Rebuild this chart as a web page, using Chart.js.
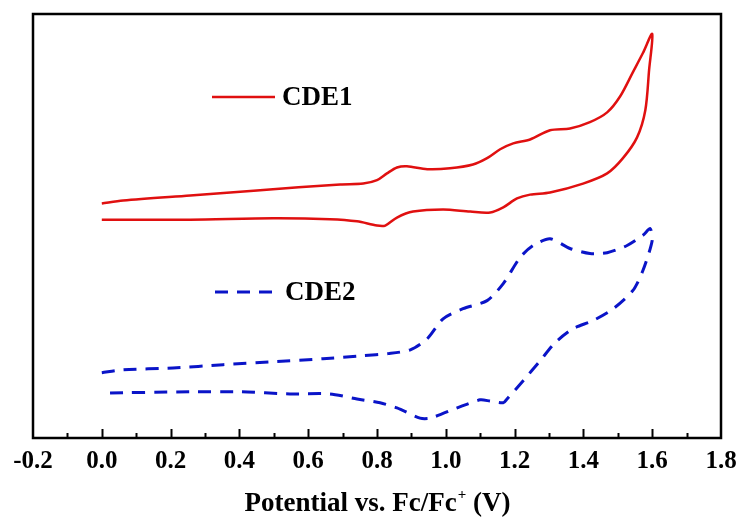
<!DOCTYPE html>
<html>
<head>
<meta charset="utf-8">
<script src="https://cdn.jsdelivr.net/npm/chart.js@4/dist/chart.umd.min.js"></script>
<style>
  html, body { margin: 0; padding: 0; background: #ffffff; }
  #wrap { width: 742px; height: 520px; }
</style>
</head>
<body>
<div id="wrap"><canvas id="cv" width="742" height="520"></canvas></div>
<script>
// Cyclic voltammograms: potential (V vs. Fc/Fc+) and current (arbitrary units)
const cde1Potential = [0.000, 0.062, 0.257, 0.451, 0.693, 0.760, 0.800, 0.829, 0.858, 0.887, 0.946, 1.012, 1.079, 1.120, 1.158, 1.196, 1.245, 1.303, 1.361, 1.419, 1.469, 1.507, 1.544, 1.573, 1.600,
                       1.591, 1.580, 1.556, 1.515, 1.469, 1.399, 1.303, 1.245, 1.207, 1.167, 1.129, 1.071, 0.992, 0.905, 0.858, 0.824, 0.800, 0.742, 0.663, 0.498, 0.257, 0.000];
const cde1Current   = [55.3, 56.0, 57.2, 58.4, 59.8, 60.0, 60.8, 62.4, 63.8, 64.1, 63.4, 63.6, 64.5, 66.0, 68.1, 69.5, 70.4, 72.6, 73.0, 74.5, 76.8, 80.6, 86.3, 90.8, 95.3,
                       86.8, 77.3, 70.9, 66.0, 62.4, 60.0, 57.9, 57.4, 56.5, 54.4, 53.2, 53.4, 53.9, 53.4, 52.0, 50.1, 50.1, 51.1, 51.6, 51.8, 51.5, 51.5];

const cde2Potential = [0.000, 0.062, 0.207, 0.353, 0.498, 0.643, 0.760, 0.833, 0.897, 0.946, 0.992, 1.050, 1.120, 1.167, 1.216, 1.254, 1.303, 1.361, 1.419, 1.469, 1.527, 1.573, 1.594,
                       1.600, 1.573, 1.544, 1.487, 1.428, 1.370, 1.318, 1.274, 1.225, 1.178, 1.167, 1.129, 1.100, 1.033, 0.955, 0.925, 0.858, 0.809, 0.742, 0.663, 0.547, 0.402, 0.257, 0.000];
const cde2Current   = [15.4, 16.1, 16.5, 17.3, 18.0, 18.7, 19.4, 19.9, 20.8, 23.4, 28.1, 30.5, 32.4, 36.4, 42.6, 45.4, 47.0, 44.7, 43.5, 43.7, 45.4, 47.8, 49.4,
                       46.6, 39.5, 34.8, 30.5, 27.7, 25.8, 22.5, 18.2, 13.5, 9.2, 8.3, 8.7, 9.0, 7.1, 4.7, 4.7, 7.1, 8.3, 9.2, 10.4, 10.4, 10.9, 10.9, 10.6];

const seriesNames = ['CDE1', 'CDE2'];
const potentialRange = [-0.2, 1.8];

const toPoints = (xs, ys) => xs.map((x, i) => ({ x: x, y: ys[i] }));

const SERIF = '"Liberation Serif", "Times New Roman", serif';

// Closed frame around the plot area plus inward-pointing ticks on the bottom axis
const framePlugin = {
  id: 'frame',
  afterDraw(chart) {
    const { ctx, chartArea: a, scales } = chart;
    const xs = scales.x;
    ctx.save();
    ctx.strokeStyle = '#000';
    ctx.lineWidth = 2.5;
    ctx.strokeRect(a.left, a.top, a.right - a.left, a.bottom - a.top);
    ctx.lineWidth = 2;
    const lo = Math.round(potentialRange[0] * 10), hi = Math.round(potentialRange[1] * 10);
    for (let k = lo + 1; k < hi; k++) {
      const px = Math.round(xs.getPixelForValue(k / 10)) + 0.5;
      const len = (k % 2 === 0) ? 9 : 5;
      ctx.beginPath();
      ctx.moveTo(px, a.bottom);
      ctx.lineTo(px, a.bottom - len);
      ctx.stroke();
    }
    ctx.restore();
  }
};

// In-plot legend entries, styled from each dataset
const legendPlugin = {
  id: 'inlineLegend',
  afterDatasetsDraw(chart, args, opts) {
    const { ctx } = chart;
    ctx.save();
    chart.data.datasets.forEach((ds, i) => {
      const pos = opts.positions[i];
      ctx.strokeStyle = ds.borderColor;
      ctx.lineWidth = ds.borderWidth;
      ctx.setLineDash(ds.borderDash || []);
      ctx.beginPath();
      ctx.moveTo(pos.x, pos.y);
      ctx.lineTo(pos.x + opts.lineLength, pos.y);
      ctx.stroke();
      ctx.setLineDash([]);
      ctx.fillStyle = '#000';
      ctx.font = 'bold 27px ' + SERIF;
      ctx.textBaseline = 'middle';
      ctx.textAlign = 'left';
      ctx.fillText(ds.label, pos.x + opts.lineLength + 7, pos.y + 1);
    });
    ctx.restore();
  }
};

// Axis title with a raised "+" on Fc+
const axisTitlePlugin = {
  id: 'axisTitle',
  afterDraw(chart, args, opts) {
    const { ctx, chartArea: a } = chart;
    ctx.save();
    ctx.fillStyle = '#000';
    ctx.textBaseline = 'alphabetic';
    const big = 'bold 27px ' + SERIF, small = 'bold 15px ' + SERIF;
    const p1 = 'Potential vs. Fc/Fc', sup = '+', p2 = ' (V)';
    ctx.font = big; const w1 = ctx.measureText(p1).width, w3 = ctx.measureText(p2).width;
    ctx.font = small; const w2 = ctx.measureText(sup).width;
    let x = (a.left + a.right) / 2 - (w1 + w2 + w3) / 2;
    const y = opts.baseline;
    ctx.font = big; ctx.fillText(p1, x, y); x += w1;
    ctx.font = small; ctx.fillText(sup, x + 1, y - 12); x += w2 + 1;
    ctx.font = big; ctx.fillText(p2, x, y);
    ctx.restore();
  }
};

new Chart(document.getElementById('cv'), {
  type: 'line',
  data: {
    datasets: [
      {
        label: seriesNames[0],
        data: toPoints(cde1Potential, cde1Current),
        borderColor: '#e01010',
        borderWidth: 2.5,
        pointRadius: 0,
        tension: 0.3,
        fill: false
      },
      {
        label: seriesNames[1],
        data: toPoints(cde2Potential, cde2Current),
        borderColor: '#0a14c8',
        borderWidth: 3,
        borderDash: [13, 9],
        pointRadius: 0,
        tension: 0.25,
        fill: false
      }
    ]
  },
  options: {
    responsive: false,
    animation: false,
    layout: { padding: { left: 33, right: 21, top: 14, bottom: 34 } },
    scales: {
      x: {
        type: 'linear',
        min: potentialRange[0],
        max: potentialRange[1],
        grid: { display: false, drawTicks: false },
        border: { display: false },
        afterFit: (scale) => { scale.paddingLeft = 0; scale.paddingRight = 0; },
        ticks: {
          stepSize: 0.2,
          color: '#000',
          padding: 9,
          font: { family: SERIF, size: 25, weight: 'bold' },
          callback: (v) => Number(v).toFixed(1)
        }
      },
      y: {
        display: false,
        min: 0,
        max: 100
      }
    },
    plugins: {
      legend: { display: false },
      tooltip: { enabled: false },
      inlineLegend: {
        lineLength: 63,
        positions: [{ x: 212, y: 97 }, { x: 215, y: 292 }]
      },
      axisTitle: { baseline: 511 }
    }
  },
  plugins: [framePlugin, legendPlugin, axisTitlePlugin]
});
</script>
</body>
</html>
